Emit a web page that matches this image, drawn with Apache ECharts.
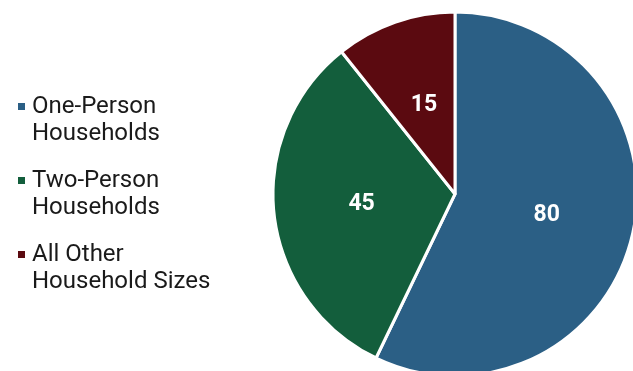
<!DOCTYPE html>
<html>
<head>
<meta charset="utf-8">
<script src="https://cdn.jsdelivr.net/npm/echarts@6/dist/echarts.min.js"></script>
<style>
  html, body { margin: 0; padding: 0; background: #ffffff; }
  #chart { width: 633px; height: 371px; }
</style>
</head>
<body>
<div id="chart"></div>
<script>
// household size breakdown
var categories = ['One-Person\nHouseholds', 'Two-Person\nHouseholds', 'All Other\nHousehold Sizes']
var values = [80, 45, 15]
var colors = ['#2b5f85', '#135e3c', '#5b0a10']

var chart = echarts.init(document.getElementById('chart'))
chart.setOption({
  animation: false,
  color: colors,
  legend: {
    orient: 'vertical',
    left: 16,
    top: 66,
    padding: 0,
    itemWidth: 9,
    itemHeight: 9,
    itemGap: -7,
    icon: 'rect',
    selectedMode: false,
    data: categories,
    // blank first line keeps the marker beside the first text line
    formatter: function (name) {
      return ' \n' + name
    },
    textStyle: {
      fontFamily: 'Roboto',
      fontSize: 24,
      lineHeight: 27,
      color: '#1a1a1a',
      padding: [0, 0, 0, 1]
    }
  },
  series: [
    {
      type: 'pie',
      center: [455, 194],
      radius: 182,
      startAngle: 90,
      clockwise: true,
      itemStyle: {
        borderColor: '#ffffff',
        borderWidth: 3
      },
      label: {
        show: true,
        position: 'inside',
        formatter: '{c}',
        color: '#ffffff',
        fontFamily: 'Roboto',
        fontWeight: 'bold',
        fontSize: 23,
        padding: [5, 0, 0, 0]
      },
      labelLine: { show: false },
      emphasis: { disabled: true },
      data: categories.map(function (name, i) {
        return { name: name, value: values[i] }
      })
    }
  ]
})
</script>
</body>
</html>
